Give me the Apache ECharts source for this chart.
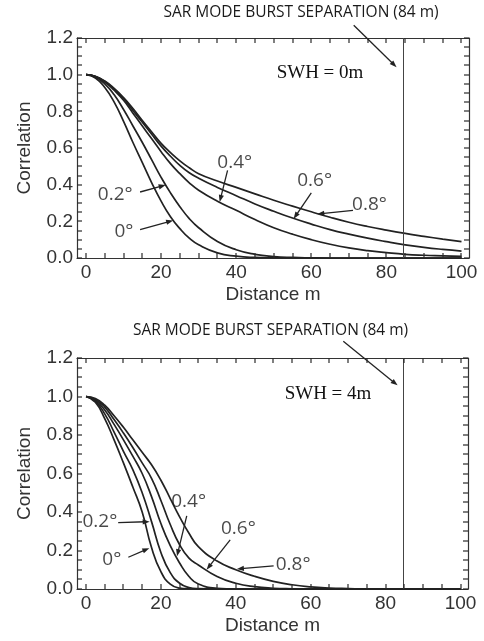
<!DOCTYPE html>
<html><head><meta charset="utf-8">
<script src="https://cdn.jsdelivr.net/npm/echarts@6/dist/echarts.min.js"></script>
<style>html,body{margin:0;padding:0;background:#fff}#c{width:484px;height:641px}</style>
</head><body><div id="c"></div>
<script>
// ---------- data ----------
const distance = [0,2.5,5,7.5,10,12.5,15,17.5,20,22.5,25,27.5,30,35,40,45,50,55,60,65,70,75,80,85,90,95,100];
const angleNames = ['0°','0.2°','0.4°','0.6°','0.8°'];

// SWH = 0 m
const swh0_deg00 = [1,0.982,0.93,0.85,0.745,0.63,0.52,0.41,0.31,0.225,0.16,0.108,0.072,0.028,0.01,0.003,0.001,0,0,0,0,0,0,0,0,0,0];
const swh0_deg02 = [1,0.987,0.95,0.89,0.81,0.72,0.63,0.535,0.44,0.355,0.28,0.215,0.165,0.09,0.045,0.02,0.008,0.003,0.001,0,0,0,0,0,0,0,0];
const swh0_deg04 = [1,0.99,0.96,0.915,0.86,0.79,0.72,0.65,0.58,0.515,0.46,0.41,0.37,0.31,0.26,0.21,0.165,0.13,0.1,0.075,0.055,0.04,0.029,0.02,0.015,0.012,0.009];
const swh0_deg06 = [1,0.99,0.963,0.92,0.87,0.805,0.74,0.675,0.61,0.555,0.505,0.465,0.435,0.385,0.34,0.295,0.255,0.218,0.185,0.155,0.13,0.108,0.089,0.072,0.058,0.047,0.038];
const swh0_deg08 = [1,0.991,0.965,0.925,0.875,0.815,0.75,0.687,0.625,0.575,0.53,0.492,0.46,0.42,0.385,0.35,0.315,0.283,0.252,0.222,0.195,0.172,0.152,0.134,0.118,0.103,0.089];

// SWH = 4 m
const swh4_deg00 = [1,0.97,0.885,0.775,0.655,0.53,0.4,0.215,0.09,0.025,0.005,0.001,0,0,0,0,0,0,0,0,0,0,0,0,0,0,0];
const swh4_deg02 = [1,0.975,0.91,0.815,0.715,0.62,0.5,0.35,0.19,0.085,0.03,0.008,0.002,0,0,0,0,0,0,0,0,0,0,0,0,0,0];
const swh4_deg04 = [1,0.98,0.93,0.855,0.775,0.69,0.6,0.48,0.34,0.225,0.135,0.065,0.026,0.004,0,0,0,0,0,0,0,0,0,0,0,0,0];
const swh4_deg06 = [1,0.985,0.945,0.88,0.81,0.735,0.655,0.575,0.46,0.335,0.23,0.16,0.125,0.065,0.03,0.012,0.004,0.001,0,0,0,0,0,0,0,0,0];
const swh4_deg08 = [1,0.99,0.955,0.9,0.84,0.775,0.71,0.645,0.565,0.47,0.375,0.29,0.22,0.145,0.1,0.066,0.04,0.022,0.011,0.005,0.002,0,0,0,0,0,0];

const xTickLabels = [0,20,40,60,80,100];
const yTickLabels = [0,0.2,0.4,0.6,0.8,1.0,1.2];
const xTickMarks = [0,5,10,15,20,25,30,35,40,45,50,55,60,65,70,75,80,85,90,95,100];
const yTickMarks = [0,0.05,0.1,0.15,0.2,0.25,0.3,0.35,0.4,0.45,0.5,0.55,0.6,0.65,0.7,0.75,0.8,0.85,0.9,0.95,1.0,1.05,1.1,1.15,1.2];
const xRange = [-2.4, 102];
const yRange = [0, 1.2];

const burstSeparation = 84.6;
const headerText = 'SAR MODE BURST SEPARATION (84 m)';
const panelNotes = ['SWH = 0m', 'SWH = 4m'];

// curve labels (order = angleNames) and arrows [from, to]
const swh0_labelPos = [[10.1,0.142],[7.8,0.345],[39.6,0.518],[60.9,0.424],[75.5,0.293]];
const swh0_arrows = [
  [[14.4,0.155],[23.2,0.205]],
  [[14.4,0.36],[21.2,0.398]],
  [[37.7,0.478],[35.6,0.306]],
  [[60,0.355],[55.3,0.214]],
  [[71.1,0.26],[61.6,0.24]],
  [[71.3,1.27],[82.7,1.041]]
];
const swh4_labelPos = [[6.9,0.155],[3.7,0.35],[27.4,0.454],[40.7,0.316],[55.3,0.125]];
const swh4_arrows = [
  [[11.3,0.165],[16.9,0.212]],
  [[8.6,0.345],[17.0,0.35]],
  [[26.9,0.38],[24.3,0.17]],
  [[38.5,0.255],[32.2,0.1]],
  [[50.1,0.12],[40.3,0.104]],
  [[68.7,1.287],[83.2,1.058]]
];

// ---------- chart ----------
const panels = [
  {series:[swh0_deg00,swh0_deg02,swh0_deg04,swh0_deg06,swh0_deg08], labels:swh0_labelPos, arrows:swh0_arrows},
  {series:[swh4_deg00,swh4_deg02,swh4_deg04,swh4_deg06,swh4_deg08], labels:swh4_labelPos, arrows:swh4_arrows}
];
const AX = '#333';
const FONT = 'Liberation Sans';
const TICK = 5;

const grids = [
  {left:77, top:38, width:392, height:220},
  {left:77, top:358, width:391, height:231}
];
const xAxes = [], yAxes = [], series = [];
const panelSeriesIndex = [];
panels.forEach((p, gi) => {
  xAxes.push({
    type:'value', gridIndex:gi, min:xRange[0], max:xRange[1], position:'bottom',
    axisLine:{show:true, onZero:false, lineStyle:{color:AX, width:1.2}},
    axisTick:{show:false},
    axisLabel:{show:true, customValues:xTickLabels, fontSize:19, color:AX, margin:5, fontFamily:FONT},
    splitLine:{show:false},
    name:'Distance m', nameLocation:'middle', nameGap:27,
    nameTextStyle:{fontSize:19, color:AX, fontFamily:FONT}
  });
  xAxes.push({
    type:'value', gridIndex:gi, min:xRange[0], max:xRange[1], position:'top',
    axisLine:{show:true, onZero:false, lineStyle:{color:AX, width:1.2}},
    axisTick:{show:false}, axisLabel:{show:false}, splitLine:{show:false}
  });
  yAxes.push({
    type:'value', gridIndex:gi, min:yRange[0], max:yRange[1], position:'left',
    axisLine:{show:true, onZero:false, lineStyle:{color:AX, width:1.2}},
    axisTick:{show:false},
    axisLabel:{show:true, customValues:yTickLabels, fontSize:19, color:AX, margin:4, fontFamily:FONT,
      formatter:v => Number(v).toFixed(1)},
    splitLine:{show:false},
    name:'Correlation', nameLocation:'middle', nameGap:43,
    nameTextStyle:{fontSize:19, color:AX, fontFamily:FONT}
  });
  yAxes.push({
    type:'value', gridIndex:gi, min:yRange[0], max:yRange[1], position:'right',
    axisLine:{show:true, onZero:false, lineStyle:{color:AX, width:1.2}},
    axisTick:{show:false}, axisLabel:{show:false}, splitLine:{show:false}
  });
  panelSeriesIndex.push(series.length);
  p.series.forEach((arr, si) => {
    const s = {
      type:'line', name:angleNames[si], xAxisIndex:gi*2, yAxisIndex:gi*2,
      data: distance.map((d, i) => [d, arr[i]]),
      showSymbol:false, smooth:0.5, silent:true,
      lineStyle:{color:'#222', width:1.7}
    };
    if (si === 4) {
      s.markLine = {silent:true, symbol:'none', label:{show:false},
        lineStyle:{color:'#444', width:1, type:'solid'},
        data:[{xAxis:burstSeparation}]};
    }
    series.push(s);
  });
  series.push({
    type:'scatter', xAxisIndex:gi*2, yAxisIndex:gi*2, symbolSize:0, clip:false, silent:true, z:5,
    data: p.labels.map((pos, i) => ({name:angleNames[i], value:pos})),
    label:{show:true, position:'inside', formatter:q => q.name, fontSize:19, color:'#1a1a1a', fontFamily:'Open Sans'}
  });
});

const baseGraphic = [
  {type:'text', style:{text:headerText, x:301, y:13, align:'center', verticalAlign:'middle', fontSize:15.5, fontFamily:'Open Sans', fill:'#1a1a1a'}},
  {type:'text', style:{text:headerText, x:270.5, y:331, align:'center', verticalAlign:'middle', fontSize:15.5, fontFamily:'Open Sans', fill:'#1a1a1a'}},
  {type:'text', style:{text:panelNotes[0], x:320, y:73, align:'center', verticalAlign:'middle', fontSize:19, fontFamily:'Liberation Serif', fill:'#111'}},
  {type:'text', style:{text:panelNotes[1], x:328, y:394, align:'center', verticalAlign:'middle', fontSize:19, fontFamily:'Liberation Serif', fill:'#111'}}
];

const chart = echarts.init(document.getElementById('c'), null, {renderer:'canvas'});
chart.setOption({
  animation:false, backgroundColor:'#fff',
  grid:grids, xAxis:xAxes, yAxis:yAxes, series:series, graphic:baseGraphic
});

// ticks and arrows, positioned through the axes' own scales
const els = [];
panels.forEach((p, gi) => {
  const finder = {seriesIndex: panelSeriesIndex[gi]};
  const toPx = pt => chart.convertToPixel(finder, pt);
  xTickMarks.forEach(v => {
    const b = toPx([v, yRange[0]]), t = toPx([v, yRange[1]]);
    const x = Math.round(b[0]);
    els.push({type:'rect', silent:true, z:100, shape:{x:x-0.6, y:b[1]-TICK, width:1.2, height:TICK}, style:{fill:'#2a2a2a'}});
    els.push({type:'rect', silent:true, z:100, shape:{x:x-0.6, y:t[1], width:1.2, height:TICK}, style:{fill:'#2a2a2a'}});
  });
  yTickMarks.forEach(v => {
    const l = toPx([xRange[0], v]), r = toPx([xRange[1], v]);
    const y = Math.round(l[1]);
    els.push({type:'rect', silent:true, z:100, shape:{x:l[0], y:y-0.6, width:TICK, height:1.2}, style:{fill:'#2a2a2a'}});
    els.push({type:'rect', silent:true, z:100, shape:{x:r[0]-TICK, y:y-0.6, width:TICK, height:1.2}, style:{fill:'#2a2a2a'}});
  });
  p.arrows.forEach(a => {
    const p0 = toPx(a[0]), p1 = toPx(a[1]);
    const dx = p1[0]-p0[0], dy = p1[1]-p0[1];
    const len = Math.hypot(dx, dy) || 1;
    const ux = dx/len, uy = dy/len, nx = -uy, ny = ux;
    const L = 7, W = 2.6;
    const bx = p1[0]-ux*L, by = p1[1]-uy*L;
    els.push({type:'line', silent:true, z:11,
      shape:{x1:p0[0], y1:p0[1], x2:p1[0]-ux*L*0.6, y2:p1[1]-uy*L*0.6},
      style:{stroke:'#222', lineWidth:1.3}});
    els.push({type:'polygon', silent:true, z:11,
      shape:{points:[[p1[0],p1[1]],[bx+nx*W, by+ny*W],[bx-nx*W, by-ny*W]]},
      style:{fill:'#222'}});
  });
});
chart.setOption({graphic: baseGraphic.concat(els)}, {replaceMerge:['graphic']});
</script>
</body></html>
